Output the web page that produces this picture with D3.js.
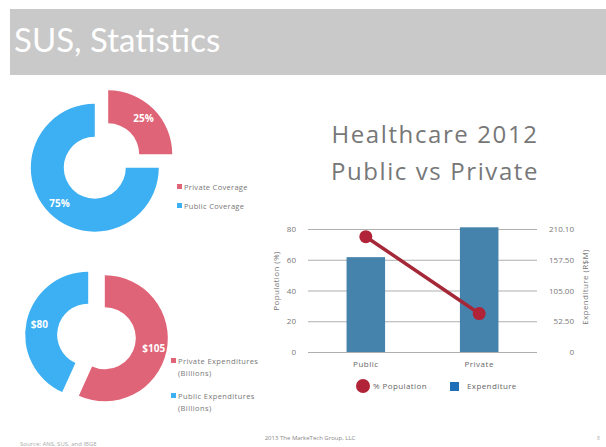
<!DOCTYPE html>
<html>
<head>
<meta charset="utf-8">
<script src="https://cdn.jsdelivr.net/npm/d3@7"></script>
<style>
  body { margin: 0; background: #fff; }
  svg { display: block; }
</style>
</head>
<body>
<div id="chart"></div>
<script>
// dados
const coverageLabels = ["Private Coverage", "Public Coverage"];
const coverageValues = [25, 75];
const coverageText = ["25%", "75%"];

const spendLabels = [["Private Expenditures", "(Billions)"], ["Public Expenditures", "(Billions)"]];
const spendValues = [105, 80];
const spendText = ["$105", "$80"];

const categories = ["Public", "Private"];
const populationPct = [75, 25];
const expenditure = [162, 213];
const leftTicks = [0, 20, 40, 60, 80];
const rightTicks = [0, 52.5, 105, 157.5, 210.1];

const red = "#e06477", blue = "#3cb0f2";

const svg = d3.select("#chart").append("svg")
    .attr("width", 606).attr("height", 447);

// barra do título
svg.append("rect").attr("x", 10).attr("y", 9).attr("width", 596).attr("height", 66).attr("fill", "#c9c9c9");
svg.append("text").attr("x", 14).attr("y", 52).text("SUS, Statistics")
    .attr("fill", "#fff").style("font-family", "Lato, sans-serif").style("font-size", "33px");

// função para desenhar as rosquinhas (donuts) com fatias separadas
function donut(cx, cy, values, texts, r0, r1, explode, labelR) {
    const g = svg.append("g").attr("transform", `translate(${cx},${cy})`);
    const pie = d3.pie().sort(null).value(d => d)(values);
    const arc = d3.arc().innerRadius(r0).outerRadius(r1);
    const lab = d3.arc().innerRadius(labelR).outerRadius(labelR);
    pie.forEach((p, i) => {
        const mid = (p.startAngle + p.endAngle) / 2;
        const dx = Math.sin(mid) * explode, dy = -Math.cos(mid) * explode;
        const s = g.append("g").attr("transform", `translate(${dx},${dy})`);
        s.append("path").attr("d", arc(p)).attr("fill", i === 0 ? red : blue);
        const c = lab.centroid(p);
        s.append("text").attr("x", c[0]).attr("y", c[1]).attr("dy", "0.35em")
            .attr("text-anchor", "middle").attr("fill", "#fff")
            .style("font-family", "'Open Sans', sans-serif").style("font-weight", "bold").style("font-size", "10px")
            .text(texts[i]);
    });
}

donut(101.5, 161, coverageValues, coverageText, 31, 64, 9.5, 50);
donut(96.5, 336.5, spendValues, spendText, 31, 63, 8.5, 50);

// legendas das rosquinhas
const legFont = "'Open Sans', sans-serif";
coverageLabels.forEach((t, i) => {
    const y = 188 + i * 19;
    svg.append("rect").attr("x", 177).attr("y", y - 4).attr("width", 5).attr("height", 5).attr("fill", i === 0 ? red : blue);
    svg.append("text").attr("x", 184).attr("y", y + 1.5).text(t)
        .attr("fill", "#777").style("font-family", legFont).style("font-size", "7.5px").style("letter-spacing", "0.3px");
});
spendLabels.forEach((t, i) => {
    const y = 362 + i * 35;
    svg.append("rect").attr("x", 171).attr("y", y - 4).attr("width", 5).attr("height", 5).attr("fill", i === 0 ? red : blue);
    t.forEach((line, j) => {
        svg.append("text").attr("x", 178).attr("y", y + 1.5 + j * 12).text(line)
            .attr("fill", "#777").style("font-family", legFont).style("font-size", "7.5px").style("letter-spacing", "0.4px");
    });
});

// título do gráfico
svg.append("text").attr("x", 435).attr("y", 143).attr("text-anchor", "middle").text("Healthcare 2012")
    .attr("fill", "#777").style("font-family", legFont).style("font-size", "24px").style("letter-spacing", "1.6px");
svg.append("text").attr("x", 435).attr("y", 180).attr("text-anchor", "middle").text("Public vs Private")
    .attr("fill", "#777").style("font-family", legFont).style("font-size", "24px").style("letter-spacing", "1.6px");

// gráfico combinado
const plot = {left: 308, right: 537, top: 229, bottom: 352};
const x = d3.scaleBand().domain(categories).range([plot.left, plot.right]).paddingInner(0.66).paddingOuter(0.34);
const yL = d3.scaleLinear().domain([0, 80]).range([plot.bottom, plot.top]);
const yR = d3.scaleLinear().domain([0, 210.1]).range([plot.bottom, plot.top]);

const gridG = svg.append("g").attr("transform", `translate(${plot.left},0)`)
    .call(d3.axisLeft(yL).tickValues(leftTicks).tickSize(-(plot.right - plot.left)).tickPadding(12).tickFormat(d3.format("d")));
gridG.select(".domain").remove();
gridG.selectAll("line").attr("stroke", "#9a9a9a").attr("stroke-width", 0.8);
gridG.selectAll("text").attr("fill", "#777").style("font-family", legFont).style("font-size", "8px");

const rightG = svg.append("g").attr("transform", `translate(${plot.right},0)`)
    .call(d3.axisRight(yR).tickValues(rightTicks).tickSize(0).tickPadding(37).tickFormat(d => d === 0 ? "0" : d3.format(".2f")(d)));
rightG.select(".domain").remove();
rightG.selectAll("text").attr("text-anchor", "end").attr("fill", "#777").style("font-family", legFont).style("font-size", "8px");

svg.selectAll(".bar").data(categories).join("rect").attr("class", "bar")
    .attr("x", d => x(d)).attr("width", x.bandwidth())
    .attr("y", (d, i) => yR(expenditure[i])).attr("height", (d, i) => plot.bottom - yR(expenditure[i]))
    .attr("fill", "#4683ac");

const line = d3.line().x((d, i) => x(categories[i]) + x.bandwidth() / 2).y(d => yL(d));
svg.append("path").datum(populationPct).attr("d", line)
    .attr("fill", "none").attr("stroke", "#a52838").attr("stroke-width", 3.5);
svg.selectAll(".pt").data(populationPct).join("circle").attr("class", "pt")
    .attr("cx", (d, i) => x(categories[i]) + x.bandwidth() / 2).attr("cy", d => yL(d)).attr("r", 6.5)
    .attr("fill", "#b12336");

const xG = svg.append("g").attr("transform", `translate(0,${plot.bottom})`)
    .call(d3.axisBottom(x).tickSize(0).tickPadding(9));
xG.select(".domain").remove();
xG.selectAll("text").attr("fill", "#666").style("font-family", legFont).style("font-size", "8px").style("letter-spacing", "0.5px");

svg.append("text").attr("transform", "translate(279,281) rotate(-90)").attr("text-anchor", "middle")
    .text("Population (%)").attr("fill", "#777").style("font-family", legFont).style("font-size", "8px").style("letter-spacing", "0.4px");
svg.append("text").attr("transform", "translate(588,287) rotate(-90)").attr("text-anchor", "middle")
    .text("Expenditure (R$M)").attr("fill", "#777").style("font-family", legFont).style("font-size", "8px").style("letter-spacing", "0.4px");

// legenda do gráfico combinado
svg.append("circle").attr("cx", 363).attr("cy", 386).attr("r", 7).attr("fill", "#b12336");
svg.append("text").attr("x", 373).attr("y", 389).text("% Population")
    .attr("fill", "#666").style("font-family", legFont).style("font-size", "8px").style("letter-spacing", "0.4px");
svg.append("rect").attr("x", 450).attr("y", 382).attr("width", 9).attr("height", 9).attr("fill", "#1e6fb8");
svg.append("text").attr("x", 467).attr("y", 389).text("Expenditure")
    .attr("fill", "#666").style("font-family", legFont).style("font-size", "8px").style("letter-spacing", "0.4px");

// rodapé
svg.append("text").attr("x", 20).attr("y", 446).text("Source: ANS, SUS, and IBGE")
    .attr("fill", "#aaa").style("font-family", legFont).style("font-size", "6px");
svg.append("text").attr("x", 310).attr("y", 440).attr("text-anchor", "middle").text("2013  The MarkeTech Group, LLC")
    .attr("fill", "#888").style("font-family", legFont).style("font-size", "6px");
svg.append("text").attr("x", 597).attr("y", 440).text("8")
    .attr("fill", "#aaa").style("font-family", legFont).style("font-size", "5px");
</script>
</body>
</html>
